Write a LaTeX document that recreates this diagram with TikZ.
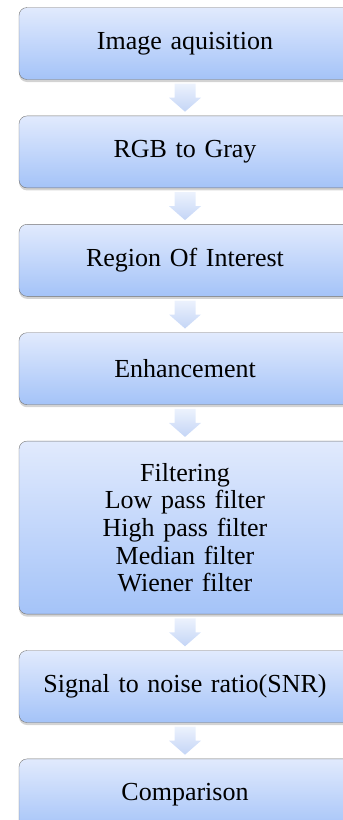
\documentclass[tikz,border=0pt]{standalone}
\usepackage{fontspec}
\setmainfont{Liberation Serif}
\usetikzlibrary{positioning,calc,shadows}
\definecolor{boxtop}{RGB}{225,234,253}
\definecolor{boxbot}{RGB}{164,195,248}
\definecolor{arrtop}{RGB}{236,242,253}
\definecolor{arrbot}{RGB}{196,213,246}
\begin{document}
\begin{tikzpicture}[line join=round,font=\fontsize{26}{27.7}\selectfont,node distance=36pt,
  stage/.style={draw=black!55,thin,rounded corners=8pt,top color=boxtop,bottom color=boxbot,
    minimum width=332pt,minimum height=72pt,text width=320pt,align=center,inner sep=2pt,
    drop shadow={shadow xshift=0pt,shadow yshift=-2.5pt,opacity=0.35}}]
\useasboundingbox (0,0) rectangle (343pt,-820pt);
\node[stage] (acq) at (185pt,-43.5pt) {Image aquisition};
\node[stage,below=of acq] (gray) {RGB to Gray};
\node[stage,below=of gray] (roi) {Region Of Interest};
\node[stage,below=of roi] (enh) {Enhancement};
\node[stage,below=of enh,minimum height=173pt] (filt) {Filtering\\Low pass filter\\High pass filter\\Median filter\\Wiener filter};
\node[stage,below=of filt] (snr) {Signal to noise ratio(SNR)};
\node[stage,below=of snr] (cmp) {Comparison};
% block arrows between the stages
\foreach \s/\t in {acq/gray,gray/roi,roi/enh,enh/filt,filt/snr,snr/cmp}
  \shade[top color=arrtop,bottom color=arrbot] ($(\s.south)!0.5!(\t.north)$) ++(-10.5pt,14pt) -- ++(21pt,0) -- ++(0,-14pt) -- ++(5.5pt,0) -- ++(-16pt,-14pt) -- ++(-16pt,14pt) -- ++(5.5pt,0) -- cycle;
\end{tikzpicture}
\end{document}
